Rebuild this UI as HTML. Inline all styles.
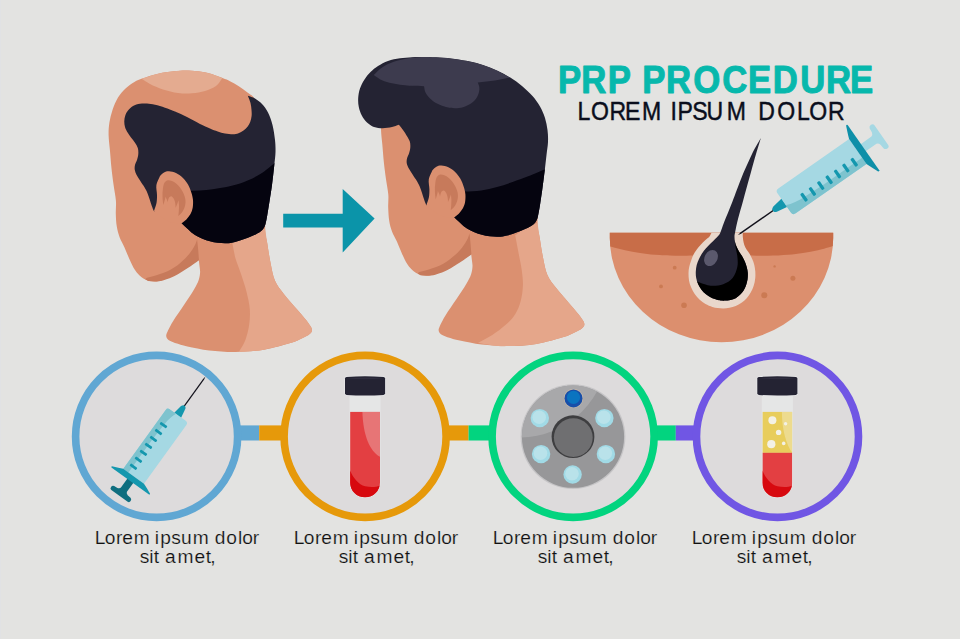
<!DOCTYPE html>
<html lang="en"><head><meta charset="utf-8"><title>PRP Procedure</title>
<style>
html,body{margin:0;padding:0;background:#E3E3E1;}
body{width:960px;height:639px;overflow:hidden;font-family:"Liberation Sans",sans-serif;}
svg{display:block;}
</style></head><body>
<svg width="960" height="639" viewBox="0 0 960 639">
<rect width="960" height="639" fill="#E3E3E1"/>
<rect width="1" height="639" fill="#E1E2E4"/>
<g>
<path d="M182.7 70.5C186.8 70.6 190.8 70.5 195 70.9C199.2 71.3 203.4 71.8 208 73C212.6 74.2 218.8 76.6 222.5 78C226.2 79.4 227.3 79.8 230 81.2C232.7 82.6 235.9 84.3 238.8 86.2C241.7 88.1 244.6 90 247.5 92.5C250.4 95 252.8 94.8 256 101C259.2 107.2 264.7 119.3 267 130C269.3 140.7 269.8 153.3 270 165C270.2 176.7 268.8 189.5 268 200C267.2 210.5 265.2 220.9 265.1 228.2C265 235.4 266.4 237.7 267.3 243.5C268.2 249.3 269.3 257 270.6 263.2C271.9 269.4 272.8 275.6 275 280.7C277.2 285.8 280.2 289.1 283.8 293.9C287.4 298.6 293.1 304.8 296.9 309.2C300.7 313.6 303.3 316.7 306.5 320.5C308.1 322.8 310.4 325.6 311.3 327.5C312.2 329.4 312.1 330.6 311.6 331.8C311.1 333.1 309.5 333.9 308.5 335C305.3 336.6 302 338.3 299 339.7C296 341.1 296.1 341.4 290.3 343.1C284.5 344.8 273.1 348.2 264 349.7C254.9 351.2 244.7 351.8 235.6 351.9C226.5 352 217.3 351.3 209.3 350.4C201.3 349.5 193.1 347.6 187.4 346.4C181.7 345.2 179.1 344.1 175 343C172.8 342 170 341.2 168.5 340C167 338.8 166.3 337.4 166.2 335.8C166.1 334.2 167.4 332.3 168 330.5C169.7 327.3 170.5 325.3 173.2 321C175.9 316.7 180.6 310.1 184.1 304.8C187.6 299.6 191.6 293.6 194 289.5C196.4 285.4 197.7 282.9 198.7 280C199.7 277.1 200 274.3 200.1 272C200.2 269.7 199.7 268 199.5 266C199.3 264 199 262 198.8 260C194.3 262.8 189.8 265.8 185.4 268.4C181 271 176.7 273.8 172.3 275.9C167.9 278 162.9 280 159.1 280.9C155.3 281.8 152.2 281.6 149.3 281C146.4 280.4 144 279.1 141.6 277.3C139.2 275.5 137 273 135 270C133 267 131.3 263.3 129.6 259.5C127.8 255.7 126.2 251.1 124.5 247.4C122.8 243.8 121 241.1 119.7 237.6C118.4 234.1 117.5 230.6 116.8 226.6C116.1 222.6 115.9 217.9 115.8 213.5C115.7 209.1 116.3 205.2 115.9 200.4C115.5 195.7 114.3 190.5 113.6 185C112.8 179.5 112 173.3 111.4 167.5C110.8 161.7 110.4 155.4 109.9 150C109.4 144.6 108.7 139.7 108.6 135.1C108.5 130.5 108.8 126.8 109.4 122.6C110.1 118.4 111.1 114.3 112.5 110.1C113.9 105.9 115.8 101.2 118 97.6C120.2 93.9 123.1 90.8 125.8 88.2C128.5 85.6 131.7 83.5 134.4 81.9C137.2 80.3 139.2 79.7 142.3 78.5C145.4 77.3 149.3 76 153.2 74.9C157.1 73.9 160.8 72.9 165.7 72.2C170.6 71.5 177 71.1 182.7 70.5Z" fill="#DB9070"/>
<path d="M232.3 243.1C233.4 248.3 234.1 253.6 235.6 258.8C237.1 264 239.3 268.7 241.1 274.2C242.9 279.7 245.1 285.9 246.5 291.7C247.9 297.5 249.4 303.7 249.8 309.2C250.2 314.7 249.9 319.4 249.2 324.5C248.5 329.6 247.1 335.3 245.4 339.9C243.7 344.5 241.1 347.9 238.9 351.9C242.6 351.7 245.8 351.6 250 351.2C254.2 350.8 257.3 351 264 349.7C270.7 348.4 284.5 344.8 290.3 343.1C296.1 341.4 296 341.1 299 339.7C302 338.3 305.3 336.6 308.5 335C309.5 333.9 311.1 333.1 311.6 331.8C312.1 330.6 312.2 329.4 311.3 327.5C310.4 325.6 308.1 322.8 306.5 320.5C303.3 316.7 300.7 313.6 296.9 309.2C293.1 304.8 287.4 298.6 283.8 293.9C280.2 289.1 277.2 285.8 275 280.7C272.8 275.6 271.9 269.4 270.6 263.2C269.3 257 268.2 249.3 267.3 243.5C266.4 237.7 265.8 233.3 265.1 228.2C260.1 230.8 255.5 233.5 250 236C244.5 238.5 238.2 240.7 232.3 243.1Z" fill="#E5A68A"/>
<path d="M148 281C150.9 281.2 154 281.7 156.8 281.5C159.6 281.3 162.1 280.6 165 279.7C167.9 278.8 171.3 277.5 174.1 276.2C176.8 274.9 179.2 273.4 181.5 272C183.8 270.6 185.3 269.8 188.2 267.8C191.1 265.9 195.4 262.8 199 260.3C198.7 256.9 198.5 253.5 198.2 250C197.9 246.5 197.5 242.9 197.1 239.4C196.6 241 196.2 242.5 195.5 244.1C194.8 245.7 193.9 247.2 192.9 248.8C191.9 250.4 190.8 251.9 189.6 253.5C188.3 255.1 187 256.6 185.4 258.2C183.8 259.8 182.1 261.3 180.2 262.9C178.3 264.5 176.2 266.2 174.1 267.6C172 269 169.8 270.2 167.5 271.3C165.2 272.4 162.4 273.3 160 274.1C157.6 274.9 155.2 275.7 153 276.3C150.8 276.9 149 277.3 147 277.8C146.5 278.3 145.3 278.8 145.5 279.3C145.7 279.8 147.2 280.4 148 281Z" fill="#C77A5B"/>
<path d="M141.5 78.8C145.4 77.5 149.2 76 153.2 74.9C157.2 73.8 160.8 72.9 165.7 72.2C170.6 71.5 177.8 70.7 182.7 70.5C187.6 70.3 190.8 70.5 195 70.9C199.2 71.3 203.4 71.8 208 73C212.6 74.2 217.7 76.3 222.5 78C220.3 80.7 218.9 83.8 216 86C213.1 88.2 209 89.8 205 91C201 92.2 196.5 93 192 93.3C187.5 93.6 182.8 93.6 178 93C173.2 92.4 167.7 91 163 89.5C158.3 88 153.6 85.8 150 84C146.4 82.2 144.3 80.5 141.5 78.8Z" fill="#E4AB90"/>
<clipPath id="h1c"><path d="M247.8 95.8C250.2 96.7 252.6 97.1 255 98.5C257.4 99.9 259.8 101.7 262 104C264.2 106.3 266.2 109 268 112.5C269.8 116 271.3 120.4 272.5 125C273.7 129.6 274.5 135.5 275 140C275.5 144.5 275.6 147.8 275.5 152C275.4 156.2 274.9 159.5 274.3 165C273.7 170.5 272.8 179 272 185C271.2 191 270.4 195.8 269.6 200.8C268.8 205.8 268 211.1 267.3 214.9C266.6 218.7 266.2 221.3 265.6 223.5C265 225.7 264.7 226.7 263.8 228C262.9 229.3 261.8 230.6 260.5 231.6C259.2 232.6 258.6 233 256 234.2C253.4 235.4 248.5 237.5 245 238.8C241.5 240.1 238.3 241.2 235 242C231.7 242.8 229.2 243.4 225 243.3C220.8 243.2 215 242.7 210 241.3C205 239.9 199.8 238.1 195 235C190.2 231.9 185.9 227 181.4 223C175.9 217 169.5 206.9 165 205C160.5 203.1 158 209.3 154.5 211.5C154.2 211.2 154 211.5 153.6 210.6C153.2 209.7 152.5 207.8 151.8 206C151.2 204.2 150.4 201.7 149.7 199.5C149 197.3 148.2 195 147.4 193C146.6 191 145.8 189.5 144.6 187.5C143.4 185.5 141.5 182.9 140.2 180.8C138.9 178.7 137.5 176.8 136.6 175C135.7 173.2 135.1 171.7 134.8 170C134.5 168.3 134.6 166.7 135 165C135.4 163.3 136.4 161.8 137 160C137.6 158.2 138.2 156 138.3 154C138.4 152 138.4 149.9 137.8 148C137.2 146.1 136.1 144.4 135 142.7C133.9 140.9 132.2 139.2 131 137.5C129.8 135.8 128.6 134.3 127.6 132.6C126.6 130.8 125.5 128.9 125 127C124.5 125.1 124.2 122.9 124.3 121C124.3 119.1 124.7 117.2 125.3 115.5C125.9 113.8 126.5 112.4 127.8 110.8C129.1 109.2 131 107.2 133 106C135 104.8 137.7 104.2 140 103.8C142.3 103.4 144.5 103.4 147 103.6C149.5 103.8 152 104.1 155 104.8C158 105.5 161.7 106.6 165 107.7C168.3 108.8 171.3 109.9 175 111.4C178.7 113 182.8 114.9 187 117C191.2 119.1 196.2 122 200 123.9C203.8 125.8 207.1 127.2 210 128.5C212.9 129.8 215.2 130.6 217.7 131.4C220.2 132.2 222.5 133 225 133.5C227.5 134 230.6 134.2 232.8 134.2C235.1 134.1 236.7 133.8 238.5 133.2C240.3 132.6 242 131.7 243.5 130.6C245 129.5 246.4 128.2 247.5 126.8C248.6 125.4 249.5 123.8 250.2 122C250.9 120.2 251.4 118 251.6 116C251.8 114 251.7 112.2 251.5 110C251.3 107.8 251.1 105.4 250.5 103C249.9 100.6 248.7 98.2 247.8 95.8Z"/></clipPath>
<path d="M247.8 95.8C250.2 96.7 252.6 97.1 255 98.5C257.4 99.9 259.8 101.7 262 104C264.2 106.3 266.2 109 268 112.5C269.8 116 271.3 120.4 272.5 125C273.7 129.6 274.5 135.5 275 140C275.5 144.5 275.6 147.8 275.5 152C275.4 156.2 274.9 159.5 274.3 165C273.7 170.5 272.8 179 272 185C271.2 191 270.4 195.8 269.6 200.8C268.8 205.8 268 211.1 267.3 214.9C266.6 218.7 266.2 221.3 265.6 223.5C265 225.7 264.7 226.7 263.8 228C262.9 229.3 261.8 230.6 260.5 231.6C259.2 232.6 258.6 233 256 234.2C253.4 235.4 248.5 237.5 245 238.8C241.5 240.1 238.3 241.2 235 242C231.7 242.8 229.2 243.4 225 243.3C220.8 243.2 215 242.7 210 241.3C205 239.9 199.8 238.1 195 235C190.2 231.9 185.9 227 181.4 223C175.9 217 169.5 206.9 165 205C160.5 203.1 158 209.3 154.5 211.5C154.2 211.2 154 211.5 153.6 210.6C153.2 209.7 152.5 207.8 151.8 206C151.2 204.2 150.4 201.7 149.7 199.5C149 197.3 148.2 195 147.4 193C146.6 191 145.8 189.5 144.6 187.5C143.4 185.5 141.5 182.9 140.2 180.8C138.9 178.7 137.5 176.8 136.6 175C135.7 173.2 135.1 171.7 134.8 170C134.5 168.3 134.6 166.7 135 165C135.4 163.3 136.4 161.8 137 160C137.6 158.2 138.2 156 138.3 154C138.4 152 138.4 149.9 137.8 148C137.2 146.1 136.1 144.4 135 142.7C133.9 140.9 132.2 139.2 131 137.5C129.8 135.8 128.6 134.3 127.6 132.6C126.6 130.8 125.5 128.9 125 127C124.5 125.1 124.2 122.9 124.3 121C124.3 119.1 124.7 117.2 125.3 115.5C125.9 113.8 126.5 112.4 127.8 110.8C129.1 109.2 131 107.2 133 106C135 104.8 137.7 104.2 140 103.8C142.3 103.4 144.5 103.4 147 103.6C149.5 103.8 152 104.1 155 104.8C158 105.5 161.7 106.6 165 107.7C168.3 108.8 171.3 109.9 175 111.4C178.7 113 182.8 114.9 187 117C191.2 119.1 196.2 122 200 123.9C203.8 125.8 207.1 127.2 210 128.5C212.9 129.8 215.2 130.6 217.7 131.4C220.2 132.2 222.5 133 225 133.5C227.5 134 230.6 134.2 232.8 134.2C235.1 134.1 236.7 133.8 238.5 133.2C240.3 132.6 242 131.7 243.5 130.6C245 129.5 246.4 128.2 247.5 126.8C248.6 125.4 249.5 123.8 250.2 122C250.9 120.2 251.4 118 251.6 116C251.8 114 251.7 112.2 251.5 110C251.3 107.8 251.1 105.4 250.5 103C249.9 100.6 248.7 98.2 247.8 95.8Z" fill="#242333"/>
<path d="M186 191C190.7 190.8 195.6 190.8 200 190.5C204.4 190.2 208.5 189.8 212.7 189.2C216.9 188.6 220.4 188.1 225 187.2C229.6 186.2 235.8 184.8 240 183.5C244.2 182.2 246.6 181.2 250 179.6C253.4 178 257.3 175.8 260.3 174C263.3 172.2 265.1 170.8 268 168.5C270.9 166.2 274.7 163.2 278 160.5L280 250L170 250L170 191L186 191Z" fill="#05040F" clip-path="url(#h1c)"/>
<path d="M160 176C161.3 174.8 162.5 173.3 164 172.5C165.5 171.7 167 171.2 169 171.3C171 171.4 173.7 171.9 176 173C178.3 174.1 180.7 175.8 182.7 177.7C184.7 179.6 186.6 182 188 184.5C189.4 187 190.6 190.2 191.4 192.8C192.2 195.4 192.8 197.5 193 200C193.2 202.5 193.1 205.5 192.7 207.8C192.3 210.1 191.6 212.1 190.5 214C189.4 215.9 187.9 217.9 186.4 219.5C184.9 221.1 183.1 222.2 181.4 223.5C177.6 223 173.6 223.2 170 222C166.4 220.8 162.7 217.8 160 216C157.3 214.2 156 212.7 154 211C154.8 208.3 156 205.7 156.5 203C157 200.3 157 198 157 195C157 192 155.9 188.2 156.4 185C156.9 181.8 158.8 179 160 176Z" fill="#DB9070"/>
<path d="M162.5 192.9C162.8 190.3 163 187 163.5 185.2C164 183.3 164.6 182.6 165.3 181.8C166 181 166.8 180.4 167.9 180.3C169 180.2 170.6 180.5 172 181C173.4 181.5 174.8 182.4 176.1 183.5C177.4 184.6 178.7 185.9 179.8 187.3C180.9 188.7 181.9 190.3 182.7 191.8C183.5 193.3 184.1 194.9 184.6 196.3C185.1 197.8 185.4 199.1 185.5 200.5C185.6 201.9 185.5 203.5 185.2 205C184.9 206.5 184.4 208 183.8 209.3C183.2 210.6 182.4 211.9 181.5 213C180.6 214.1 179.4 214.9 178.3 215.9C178.5 214.4 178.7 213.2 178.8 211.5C178.9 209.8 179.1 207.4 179 205.5C178.9 203.6 178.7 202 178.5 200.3C178 201.7 177.5 203.3 177 204.5C176.5 205.7 176.1 206.6 175.6 207.7C175.5 206.1 175.5 204.5 175.2 203C174.9 201.5 174.5 199.9 173.8 198.8C173.2 197.7 172.1 196.4 171.3 196.3C170.5 196.2 169.4 197 168.8 198C168.2 199 168 200.8 167.6 202.2C167.3 201.3 167.2 200.4 166.8 199.5C166.5 198.6 165.9 197.6 165.5 196.7C165.3 197.8 165.2 198.6 164.8 200C164.4 201.4 163.8 203.3 163.3 205C163.1 203 162.7 201 162.6 199C162.5 197 162.5 194.9 162.5 192.9Z" fill="#C77A5B"/>
</g>
<g>
<path d="M455.1 64.7C459.2 64.8 463.2 64.7 467.4 65.1C471.6 65.5 475.8 66 480.4 67.2C485 68.4 491.2 70.8 494.9 72.2C498.6 73.6 499.7 74 502.4 75.4C505.1 76.8 508.3 78.5 511.2 80.4C514.1 82.3 517 84.2 519.9 86.7C522.8 89.2 525.1 89 528.4 95.2C531.6 101.5 537.1 113.5 539.4 124.2C541.7 134.9 542.2 147.5 542.4 159.2C542.6 170.9 541.2 183.7 540.4 194.2C539.6 204.7 537.6 215.1 537.5 222.4C537.4 229.6 538.8 231.9 539.7 237.7C540.6 243.5 541.7 251.2 543 257.4C544.3 263.6 545.2 269.8 547.4 274.9C549.6 280 552.6 283.3 556.2 288.1C559.9 292.8 565.5 299 569.3 303.4C573.1 307.8 575.7 310.9 578.9 314.7C580.5 317 582.9 319.8 583.7 321.7C584.6 323.6 584.5 324.8 584 326C583.5 327.2 581.9 328.1 580.9 329.2C577.7 330.8 574.4 332.5 571.4 333.9C568.4 335.2 568.5 335.6 562.7 337.3C556.9 339 545.5 342.4 536.4 343.9C527.3 345.4 517.1 346 508 346.1C498.9 346.2 489.7 345.5 481.7 344.6C473.7 343.7 465.5 341.8 459.8 340.6C454.1 339.4 451.5 338.3 447.4 337.2C445.2 336.2 442.4 335.4 440.9 334.2C439.4 333 438.7 331.6 438.6 330C438.5 328.4 439.8 326.5 440.4 324.7C442.1 321.5 442.9 319.5 445.6 315.2C448.3 310.9 453 304.2 456.5 299C460 293.8 464 287.8 466.4 283.7C468.8 279.6 470.1 277.1 471.1 274.2C472.1 271.3 472.4 268.5 472.5 266.2C472.6 263.9 472.1 262.2 471.9 260.2C471.7 258.2 471.4 256.2 471.2 254.2C466.7 257 462.2 259.9 457.8 262.6C453.4 265.2 449.1 268 444.7 270.1C440.3 272.2 435.3 274.2 431.5 275.1C427.7 275.9 424.6 275.8 421.7 275.2C418.8 274.6 416.4 273.3 414 271.5C411.6 269.7 409.4 267.2 407.4 264.2C405.4 261.2 403.8 257.5 402 253.7C400.2 249.9 398.5 245.2 396.9 241.6C395.2 237.9 393.4 235.3 392.1 231.8C390.8 228.3 389.8 224.8 389.2 220.8C388.6 216.8 388.4 212.1 388.2 207.7C388 203.3 388.7 199.3 388.3 194.6C387.9 189.8 386.8 184.7 386 179.2C385.2 173.7 384.4 167.5 383.8 161.7C383.2 155.9 382.8 149.6 382.3 144.2C381.8 138.8 381.1 133.9 381 129.3C380.9 124.7 381.1 121 381.8 116.8C382.4 112.6 383.5 108.5 384.9 104.3C386.3 100.1 388.2 95.4 390.4 91.8C392.6 88.2 395.5 85 398.2 82.4C400.9 79.8 404 77.7 406.8 76.1C409.5 74.5 411.6 73.9 414.7 72.7C417.8 71.5 421.7 70.2 425.6 69.1C429.5 68.1 433.2 67.1 438.1 66.4C443 65.7 449.4 65.3 455.1 64.7Z" fill="#DB9070"/>
<path d="M515.2 235.3C516.3 241.1 517.4 247 518.5 252.8C519.6 258.7 521.1 264.9 521.8 270.4C522.5 275.9 523.1 280.6 522.9 285.7C522.7 290.8 522 296.2 520.7 301C519.4 305.8 517.8 310.2 515.2 314.2C512.7 318.2 509.2 321.6 505.4 325.1C501.6 328.6 496.9 332.1 492.3 335C487.7 337.9 482.8 340.2 478 342.8C482.8 343.7 487.4 344.8 492.4 345.4C497.4 345.9 500.7 346.3 508 346.1C515.3 345.8 527.3 345.4 536.4 343.9C545.5 342.4 556.9 339 562.7 337.3C568.5 335.6 568.4 335.2 571.4 333.9C574.4 332.5 577.7 330.8 580.9 329.2C581.9 328.1 583.5 327.2 584 326C584.5 324.8 584.6 323.6 583.7 321.7C582.9 319.8 580.5 317 578.9 314.7C575.7 310.9 573.1 307.8 569.3 303.4C565.5 299 559.9 292.8 556.2 288.1C552.6 283.3 549.6 280 547.4 274.9C545.2 269.8 544.3 263.6 543 257.4C541.7 251.2 540.6 243.5 539.7 237.7C538.8 231.9 538.2 227.5 537.5 222.4C532.5 225 526.1 228 522.4 230.2C518.7 232.3 517.6 233.6 515.2 235.3Z" fill="#E5A68A"/>
<path d="M420.4 275.2C423.3 275.4 426.4 275.9 429.2 275.7C432 275.5 434.5 274.8 437.4 273.9C440.3 273 443.8 271.7 446.5 270.4C449.2 269.1 451.5 267.6 453.9 266.2C456.2 264.8 457.7 263.9 460.6 262C463.5 260.1 467.8 257 471.4 254.5C471.1 251.1 470.9 247.7 470.6 244.2C470.3 240.7 469.9 237.1 469.5 233.6C469 235.2 468.6 236.7 467.9 238.3C467.2 239.9 466.3 241.4 465.3 243C464.3 244.6 463.2 246.1 462 247.7C460.8 249.3 459.4 250.8 457.8 252.4C456.2 254 454.5 255.5 452.6 257.1C450.7 258.7 448.6 260.4 446.5 261.8C444.4 263.2 442.2 264.4 439.9 265.5C437.5 266.6 434.8 267.5 432.4 268.3C430 269.1 427.6 269.9 425.4 270.5C423.2 271.1 421.4 271.5 419.4 272C418.9 272.5 417.7 273 417.9 273.5C418.1 274 419.6 274.6 420.4 275.2Z" fill="#C77A5B"/>
<clipPath id="h2c"><path d="M398.9 124.7C396.6 125.5 394.7 126.4 392 127C389.3 127.6 385.6 128.2 382.6 128.2C379.6 128.2 376.6 128 374 127C371.4 126 369 124.4 367 122.5C365 120.6 363.2 118.1 361.8 115.5C360.4 112.9 359.4 109.9 358.8 107C358.2 104.1 358 101.1 358.2 98C358.4 94.9 358.9 91.6 360 88.5C361.1 85.4 362.8 82.2 364.5 79.5C366.2 76.8 368.2 74.2 370.5 72C372.8 69.8 375.1 67.8 378 66C380.9 64.2 384.3 62.3 388 61C391.7 59.7 396 58.9 400 58.3C404 57.7 407.8 57.4 412 57.2C416.2 57 420.3 57 425 57C429.7 57 435 57.2 440 57.5C445 57.8 450 58.3 455 59C460 59.7 465.3 60.5 470 61.5C474.7 62.5 478.5 63.5 483 65C487.5 66.5 492.4 68.4 497 70.5C501.6 72.6 506.1 75 510.3 77.6C514.5 80.2 518.3 82.9 522 86C525.7 89.1 529.5 92.6 532.5 96C535.5 99.4 537.9 102.8 540 106.5C542.1 110.2 543.8 114.1 545 118C546.2 121.9 547 126 547.5 130C548 134 548.2 137.8 548 142C547.8 146.2 547 150.3 546.5 155C546 159.7 545.4 164.7 544.8 170C544.1 175.3 543.4 181.5 542.6 187C541.9 192.5 541 198.3 540.3 203C539.6 207.7 538.8 212.2 538.2 215C537.6 217.8 537.5 218.4 536.7 220C535.9 221.6 534.8 223.3 533.3 224.6C531.8 225.9 530.7 226.5 528 227.8C525.3 229.1 520.5 231 517 232.3C513.5 233.6 510.3 234.8 507 235.5C503.7 236.2 501.2 236.9 497 236.8C492.8 236.7 487 236.2 482 234.8C477 233.4 471.8 231.6 467 228.5C462.2 225.4 457.9 220.5 453.4 216.5C447.9 210.5 441.4 200.4 437 198.5C432.6 196.6 430.3 203 426.9 205.3C426.6 205 426.4 205.3 426 204.4C425.6 203.5 424.8 201.7 424.2 199.8C423.6 198 422.8 195.5 422.1 193.3C421.4 191.1 420.7 188.8 419.8 186.8C418.9 184.8 418.2 183.3 417 181.3C415.8 179.3 413.9 176.7 412.6 174.6C411.3 172.5 410 170.7 409 168.8C408 167 407.1 165.2 406.8 163.5C406.5 161.8 406.6 160.2 407 158.5C407.4 156.8 408.4 155.3 409 153.5C409.6 151.7 410.2 149.5 410.3 147.5C410.4 145.5 410.4 143.4 409.8 141.5C409.2 139.6 408.1 138.1 407 136.2C405.9 134.3 404.4 131.9 403 130C401.6 128.1 400.3 126.5 398.9 124.7Z"/></clipPath>
<path d="M398.9 124.7C396.6 125.5 394.7 126.4 392 127C389.3 127.6 385.6 128.2 382.6 128.2C379.6 128.2 376.6 128 374 127C371.4 126 369 124.4 367 122.5C365 120.6 363.2 118.1 361.8 115.5C360.4 112.9 359.4 109.9 358.8 107C358.2 104.1 358 101.1 358.2 98C358.4 94.9 358.9 91.6 360 88.5C361.1 85.4 362.8 82.2 364.5 79.5C366.2 76.8 368.2 74.2 370.5 72C372.8 69.8 375.1 67.8 378 66C380.9 64.2 384.3 62.3 388 61C391.7 59.7 396 58.9 400 58.3C404 57.7 407.8 57.4 412 57.2C416.2 57 420.3 57 425 57C429.7 57 435 57.2 440 57.5C445 57.8 450 58.3 455 59C460 59.7 465.3 60.5 470 61.5C474.7 62.5 478.5 63.5 483 65C487.5 66.5 492.4 68.4 497 70.5C501.6 72.6 506.1 75 510.3 77.6C514.5 80.2 518.3 82.9 522 86C525.7 89.1 529.5 92.6 532.5 96C535.5 99.4 537.9 102.8 540 106.5C542.1 110.2 543.8 114.1 545 118C546.2 121.9 547 126 547.5 130C548 134 548.2 137.8 548 142C547.8 146.2 547 150.3 546.5 155C546 159.7 545.4 164.7 544.8 170C544.1 175.3 543.4 181.5 542.6 187C541.9 192.5 541 198.3 540.3 203C539.6 207.7 538.8 212.2 538.2 215C537.6 217.8 537.5 218.4 536.7 220C535.9 221.6 534.8 223.3 533.3 224.6C531.8 225.9 530.7 226.5 528 227.8C525.3 229.1 520.5 231 517 232.3C513.5 233.6 510.3 234.8 507 235.5C503.7 236.2 501.2 236.9 497 236.8C492.8 236.7 487 236.2 482 234.8C477 233.4 471.8 231.6 467 228.5C462.2 225.4 457.9 220.5 453.4 216.5C447.9 210.5 441.4 200.4 437 198.5C432.6 196.6 430.3 203 426.9 205.3C426.6 205 426.4 205.3 426 204.4C425.6 203.5 424.8 201.7 424.2 199.8C423.6 198 422.8 195.5 422.1 193.3C421.4 191.1 420.7 188.8 419.8 186.8C418.9 184.8 418.2 183.3 417 181.3C415.8 179.3 413.9 176.7 412.6 174.6C411.3 172.5 410 170.7 409 168.8C408 167 407.1 165.2 406.8 163.5C406.5 161.8 406.6 160.2 407 158.5C407.4 156.8 408.4 155.3 409 153.5C409.6 151.7 410.2 149.5 410.3 147.5C410.4 145.5 410.4 143.4 409.8 141.5C409.2 139.6 408.1 138.1 407 136.2C405.9 134.3 404.4 131.9 403 130C401.6 128.1 400.3 126.5 398.9 124.7Z" fill="#242333"/>
<path d="M373.8 75C375.9 73 377.6 70.8 380 69C382.4 67.2 384.7 65.5 388 64C391.3 62.5 396 61 400 60C404 59 407.8 58.3 412 57.8C416.2 57.3 420.3 57 425 57C429.7 57 435 57.2 440 57.5C445 57.8 450 58.3 455 59C460 59.7 465.3 60.5 470 61.5C474.7 62.5 478.5 63.5 483 65C487.5 66.5 492.5 68.4 497 70.5C501.5 72.6 505.7 75.2 510 77.6C505 78.6 500.4 79.7 495 80.5C489.6 81.3 483.5 81.9 477.8 82.6C478.3 84.1 479.1 85.4 479.3 87C479.5 88.6 479.5 90.2 479 92C478.5 93.8 477.8 96.1 476.5 98C475.2 99.9 473.2 102 471 103.5C468.8 105 465.7 106.4 463 107.2C460.3 108 457.8 108.2 455 108.2C452.2 108.2 449 107.8 446 107C443 106.2 439.7 104.9 437 103.5C434.3 102.1 431.9 100.3 430 98.5C428.1 96.7 426.5 94.5 425.5 92.5C424.5 90.5 424.5 88.4 424 86.3C420 86.1 415.6 86 412 85.8C408.4 85.6 405.9 85.4 402.6 85C399.3 84.6 395.4 84.1 392 83.3C388.6 82.5 385 81.7 382 80.3C379 78.9 376.5 76.8 373.8 75Z" fill="#3D3B4E" clip-path="url(#h2c)"/>
<path d="M458 191.8C460.4 191.7 461.4 191.8 465.3 191.6C469.2 191.4 476 191.2 481.3 190.4C486.6 189.6 491.8 188.4 497 187C502.2 185.6 507.4 183.8 512.6 182C517.8 180.2 522.7 178.5 528.2 176.3C533.7 174.1 541.7 170.6 545.5 169C549.3 167.4 549.2 167.3 551 166.5L553 245L442 245L442 190.8L458 190.8Z" fill="#05040F" clip-path="url(#h2c)"/>
<path d="M432.4 170.2C433.7 169 434.9 167.5 436.4 166.7C437.9 165.9 439.4 165.4 441.4 165.5C443.4 165.6 446.1 166.1 448.4 167.2C450.7 168.3 453.1 170 455.1 171.9C457.1 173.8 458.9 176.2 460.4 178.7C461.8 181.2 463 184.4 463.8 187C464.6 189.6 465.2 191.7 465.4 194.2C465.6 196.7 465.5 199.7 465.1 202C464.7 204.3 463.9 206.2 462.9 208.2C461.8 210.1 460.3 212.1 458.8 213.7C457.3 215.3 455.5 216.4 453.8 217.7C450 217.2 446 217.4 442.4 216.2C438.8 214.9 435.1 212 432.4 210.2C429.7 208.4 428.4 206.9 426.4 205.2C427.2 202.5 428.4 199.9 428.9 197.2C429.4 194.5 429.4 192.2 429.4 189.2C429.4 186.2 428.3 182.4 428.8 179.2C429.3 176 431.2 173.2 432.4 170.2Z" fill="#DB9070"/>
<path d="M434.9 187.1C435.2 184.5 435.4 181.2 435.9 179.4C436.4 177.5 437 176.8 437.7 176C438.4 175.2 439.2 174.6 440.3 174.5C441.4 174.4 443 174.7 444.4 175.2C445.8 175.7 447.2 176.6 448.5 177.7C449.8 178.8 451.1 180.1 452.2 181.5C453.3 182.9 454.3 184.5 455.1 186C455.9 187.5 456.5 189.1 457 190.5C457.5 191.9 457.8 193.2 457.9 194.7C458 196.1 457.9 197.7 457.6 199.2C457.3 200.7 456.8 202.2 456.2 203.5C455.6 204.8 454.8 206.1 453.9 207.2C453 208.3 451.8 209.1 450.7 210.1C450.9 208.6 451.1 207.4 451.2 205.7C451.3 204 451.4 201.6 451.4 199.7C451.3 197.8 451.1 196.2 450.9 194.5C450.4 195.9 449.9 197.5 449.4 198.7C448.9 199.9 448.5 200.8 448 201.9C447.9 200.3 447.9 198.7 447.6 197.2C447.3 195.7 446.8 194.1 446.2 193C445.6 191.9 444.5 190.6 443.7 190.5C442.9 190.4 441.8 191.2 441.2 192.2C440.6 193.2 440.4 195 440 196.4C439.7 195.5 439.6 194.6 439.2 193.7C438.8 192.8 438.3 191.8 437.9 190.9C437.7 192 437.6 192.8 437.2 194.2C436.8 195.6 436.2 197.5 435.7 199.2C435.5 197.2 435.1 195.2 435 193.2C434.9 191.2 434.9 189.1 434.9 187.1Z" fill="#C77A5B"/>
</g>
<path d="M283.2 213.8H342.7V189L374.6 218.4L342.7 252.4V227.6H283.2Z" fill="#0B94A9"/>
<text x="620 645.8 675.4 701.1 713.7 740.1 770.2 802.6 831 858.5 889.1 917.9 944.5" y="92.6" transform="scale(0.9 1)" font-family="'Liberation Sans',sans-serif" font-weight="bold" font-size="38.6" fill="#07B8AC" stroke="#07B8AC" stroke-width="1" stroke-linejoin="round">PRP PROCEDURE</text>
<text x="641.6 656.6 677.3 694.4 713.4 734.7 744.9 752.9 769.1 785 807.5 828.8 842.4 863.7 885.5 899.3 920" y="119.7" transform="scale(0.9 1)" font-family="'Liberation Sans',sans-serif" font-size="25.6" fill="#0A0E1C" stroke="#0A0E1C" stroke-width="0.45">LOREM IPSUM DOLOR</text>
<clipPath id="bc"><path d="M609.8 232.8H833.2V238A111.7 105 0 0 1 721.5 342.3A111.7 105 0 0 1 609.8 238Z"/></clipPath>
<path d="M609.8 232.8H833.2V238A111.7 105 0 0 1 721.5 342.3A111.7 105 0 0 1 609.8 238Z" fill="#DC8F6E"/>
<path d="M605 245C606.7 245.5 606.7 245.7 610 246.6C613.3 247.5 620 249.2 625 250.3C630 251.4 635 252.2 640 253C645 253.8 649.2 254.3 655 254.8C660.8 255.3 668.3 255.7 675 255.8C681.7 255.9 687.2 255.7 695 255.6C702.8 255.5 712.7 255.3 721.5 255.3C730.3 255.3 740.2 255.5 748 255.6C755.8 255.7 761.3 255.9 768 255.8C774.7 255.7 782.2 255.3 788 254.8C793.8 254.3 798 253.8 803 253C808 252.2 813 251.5 818 250.3C823 249.1 829.7 247 833 246C836.3 245 836.3 245 838 244.5L838 228L605 228L605 245Z" fill="#C86D48" clip-path="url(#bc)"/>
<circle cx="674.7" cy="267.7" r="1.9" fill="#CB7A53"/>
<circle cx="661" cy="286.4" r="1.9" fill="#CB7A53"/>
<circle cx="684" cy="305.3" r="2.8" fill="#CB7A53"/>
<circle cx="774.6" cy="266.4" r="1.2" fill="#CB7A53"/>
<circle cx="792.9" cy="278.2" r="2.5" fill="#CB7A53"/>
<circle cx="764.3" cy="295.3" r="3" fill="#CB7A53"/>
<path d="M711.5 232.8C710.8 234 710.5 235.2 709.5 236.5C708.5 237.8 706.7 238.9 705.2 240.3C703.7 241.7 701.9 243.4 700.5 245C699.1 246.6 697.8 248 696.6 249.7C695.4 251.4 694.2 253.2 693.3 255C692.4 256.8 691.8 258.7 691.1 260.7C690.4 262.7 689.6 264.9 689.2 267C688.8 269.1 688.5 270.9 688.5 273.2C688.5 275.4 688.6 278.1 689 280.5C689.4 282.9 690.1 285.1 691.1 287.3C692.1 289.6 693.3 291.9 694.7 294C696.1 296.1 697.9 298.1 699.7 299.8C701.5 301.5 703.4 302.8 705.5 304C707.6 305.2 710.3 306.2 712.3 306.9C714.3 307.6 715.9 307.9 717.7 308.1C719.5 308.4 721.2 308.4 723.2 308.4C725.2 308.3 727.4 308.2 729.5 307.8C731.6 307.4 733.7 306.9 735.7 306.1C737.7 305.3 739.7 304.1 741.5 302.8C743.3 301.5 745.2 299.9 746.7 298.2C748.2 296.5 749.5 294.6 750.7 292.5C751.9 290.4 753 288 753.7 285.7C754.5 283.4 754.9 280.9 755.2 278.5C755.5 276.1 755.4 273.9 755.3 271.6C755.1 269.4 754.8 267.1 754.3 265C753.8 262.9 753 260.9 752.2 259.1C751.4 257.3 750.6 255.6 749.7 254C748.8 252.4 747.6 251.2 746.7 249.7C745.8 248.2 744.9 246.6 744.3 245C743.7 243.4 743.5 241.7 743.2 240.3C743 238.9 742.9 237.8 742.8 236.5C742.7 235.2 742.8 234 742.8 232.8Z" fill="#E9D7CB"/>
<clipPath id="fc"><path d="M760.9 138.1C759.8 141.7 758.6 145.2 757.5 149C756.4 152.8 755.3 156.3 754 161C752.7 165.7 751.4 170.5 749.6 177C747.8 183.5 745.2 193 743.3 200C741.4 207 739.4 213.5 738 219C736.6 224.5 735.6 229.8 735 232.8C734.4 235.8 734.5 235.7 734.5 237.2C734.5 238.7 734.7 240.4 735 242C735.3 243.6 735.8 245 736.5 246.6C737.2 248.2 738.1 249.9 739 251.5C739.9 253.1 741 254.3 742 256C743 257.7 744 259.7 744.8 261.5C745.6 263.3 746.2 265.1 746.7 267C747.2 268.9 747.7 270.9 747.8 273C747.9 275.1 747.8 277.4 747.5 279.5C747.2 281.6 746.6 283.7 746 285.5C745.4 287.3 744.6 288.8 743.6 290.4C742.6 291.9 741.3 293.5 740 294.8C738.7 296.1 737.3 297.3 735.7 298.2C734.1 299.1 732.3 299.6 730.5 300C728.7 300.4 726.4 300.5 724.8 300.6C723.2 300.7 722 300.6 720.7 300.5C719.4 300.4 718.6 300.3 717 299.8C715.4 299.3 712.8 298.4 711 297.5C709.2 296.6 707.6 295.6 706 294.3C704.4 293 702.8 291.4 701.5 289.7C700.2 288 699.1 286.1 698.2 284.2C697.3 282.2 696.6 280.1 696.2 278C695.8 275.9 695.7 273.8 695.8 271.6C695.9 269.4 696.2 267.1 696.7 265C697.2 262.9 698.1 261 699 259.1C699.9 257.2 700.8 255.3 702 253.5C703.2 251.7 704.5 249.9 706 248.2C707.5 246.5 709.2 244.9 710.8 243.3C712.4 241.7 714.1 240.1 715.4 238.8C716.6 237.6 717.5 236.8 718.3 235.8C719.1 234.8 719.3 235.1 720.3 232.8C721.3 230.5 722.2 227.1 724.2 222C726.2 216.9 729.4 209.5 732.3 202C735.2 194.5 739 183.8 741.8 177C744.5 170.2 746.7 165.7 748.8 161C750.9 156.3 752.5 152.8 754.5 149C756.5 145.2 758.8 141.7 760.9 138.1Z"/></clipPath>
<path d="M760.9 138.1C759.8 141.7 758.6 145.2 757.5 149C756.4 152.8 755.3 156.3 754 161C752.7 165.7 751.4 170.5 749.6 177C747.8 183.5 745.2 193 743.3 200C741.4 207 739.4 213.5 738 219C736.6 224.5 735.6 229.8 735 232.8C734.4 235.8 734.5 235.7 734.5 237.2C734.5 238.7 734.7 240.4 735 242C735.3 243.6 735.8 245 736.5 246.6C737.2 248.2 738.1 249.9 739 251.5C739.9 253.1 741 254.3 742 256C743 257.7 744 259.7 744.8 261.5C745.6 263.3 746.2 265.1 746.7 267C747.2 268.9 747.7 270.9 747.8 273C747.9 275.1 747.8 277.4 747.5 279.5C747.2 281.6 746.6 283.7 746 285.5C745.4 287.3 744.6 288.8 743.6 290.4C742.6 291.9 741.3 293.5 740 294.8C738.7 296.1 737.3 297.3 735.7 298.2C734.1 299.1 732.3 299.6 730.5 300C728.7 300.4 726.4 300.5 724.8 300.6C723.2 300.7 722 300.6 720.7 300.5C719.4 300.4 718.6 300.3 717 299.8C715.4 299.3 712.8 298.4 711 297.5C709.2 296.6 707.6 295.6 706 294.3C704.4 293 702.8 291.4 701.5 289.7C700.2 288 699.1 286.1 698.2 284.2C697.3 282.2 696.6 280.1 696.2 278C695.8 275.9 695.7 273.8 695.8 271.6C695.9 269.4 696.2 267.1 696.7 265C697.2 262.9 698.1 261 699 259.1C699.9 257.2 700.8 255.3 702 253.5C703.2 251.7 704.5 249.9 706 248.2C707.5 246.5 709.2 244.9 710.8 243.3C712.4 241.7 714.1 240.1 715.4 238.8C716.6 237.6 717.5 236.8 718.3 235.8C719.1 234.8 719.3 235.1 720.3 232.8C721.3 230.5 722.2 227.1 724.2 222C726.2 216.9 729.4 209.5 732.3 202C735.2 194.5 739 183.8 741.8 177C744.5 170.2 746.7 165.7 748.8 161C750.9 156.3 752.5 152.8 754.5 149C756.5 145.2 758.8 141.7 760.9 138.1Z" fill="#242333"/>
<path d="M735.5 232C735.3 235.8 734.7 239.5 735 243.5C735.3 247.5 736.9 252.1 737.3 256C737.7 259.9 738.1 263.3 737.3 267C736.5 270.7 735 275.1 732.6 278C730.2 280.9 726.9 282.9 723.2 284.2C719.6 285.5 714.6 286 710.7 285.7C706.8 285.4 702.5 283.7 699.7 282.6C696.9 281.5 695.9 280.2 694 279L694 305L752 305L752 232L735.5 232Z" fill="#000" clip-path="url(#fc)"/>
<ellipse cx="711" cy="258" rx="6.4" ry="8.5" transform="rotate(28 711 258)" fill="#5B596D"/>
<g transform="translate(737.8 235.2) rotate(-34.9) scale(1)">
<path d="M0 0L4 -0.72H44V0.72H4Z" fill="#12111B"/>
<path d="M43 -1.5Q42.4 0 43 1.5Q43.8 2.6 45.5 3.1L57 5.1V-5.1L45.5 -3.1Q43.8 -2.6 43 -1.5Z" fill="#1497AE"/>
<clipPath id="sb1"><path d="M60 -15.2H146.3V15.2H60Q56.5 15.2 56.5 11.7V-11.7Q56.5 -15.2 60 -15.2Z"/></clipPath>
<path d="M60 -15.2H146.3V15.2H60Q56.5 15.2 56.5 11.7V-11.7Q56.5 -15.2 60 -15.2Z" fill="#A5D8E3"/>
<path d="M55 1.8C60 4.8 66 6 75 6.6L100 7.6H147V16H55Z" fill="#7EC3CE" clip-path="url(#sb1)"/>
<rect x="74.4" y="2.1" width="3.3" height="9.4" rx="1" fill="#1497AE"/>
<rect x="84.6" y="2.1" width="3.3" height="9.4" rx="1" fill="#1497AE"/>
<rect x="94.8" y="2.1" width="3.3" height="9.4" rx="1" fill="#1497AE"/>
<rect x="105" y="2.1" width="3.3" height="9.4" rx="1" fill="#1497AE"/>
<rect x="115.2" y="2.1" width="3.3" height="9.4" rx="1" fill="#1497AE"/>
<rect x="125.4" y="2.1" width="3.3" height="9.4" rx="1" fill="#1497AE"/>
<rect x="135.6" y="2.1" width="3.3" height="9.4" rx="1" fill="#1497AE"/>
<path d="M152 -4.4H166Q168 -4.7 168.8 -7.5L169.2 -12Q169.8 -14.4 172.3 -14.4Q175 -14.4 175 -12V12Q175 14.4 172.3 14.4Q169.8 14.4 169.2 12L168.8 7.5Q168 4.7 166 4.4H152Z" fill="#A5D8E3"/>
<path d="M146.3 -15.2Q148 -20 151.6 -28Q152.6 -28.6 153.2 -27.6V27.6Q152.6 28.6 151.6 28Q148 20 146.3 15.2Z" fill="#0E8FA8"/>
</g>
<rect x="238" y="425.4" width="21.2" height="15.1" fill="#60A7D3"/>
<rect x="259.2" y="425.4" width="25" height="15.1" fill="#E6990A"/>
<rect x="446" y="425.4" width="22.6" height="15.1" fill="#E6990A"/>
<rect x="468.6" y="425.4" width="24" height="15.1" fill="#02D47F"/>
<rect x="654" y="425.4" width="21.8" height="15.1" fill="#02D47F"/>
<rect x="675.8" y="425.4" width="21" height="15.1" fill="#7056E4"/>
<circle cx="156.6" cy="436.4" r="81" fill="#DDDBDC" stroke="#60A7D3" stroke-width="7.6"/>
<circle cx="365.1" cy="436.4" r="81" fill="#DDDBDC" stroke="#E6990A" stroke-width="7.6"/>
<circle cx="573.1" cy="436.4" r="81" fill="#DDDBDC" stroke="#02D47F" stroke-width="7.6"/>
<circle cx="777.5" cy="436.4" r="81" fill="#DDDBDC" stroke="#7056E4" stroke-width="7.6"/>
<g transform="translate(205.5 376.6) rotate(125.8) scale(0.84)">
<path d="M0 0L4 -0.72H44V0.72H4Z" fill="#12111B"/>
<path d="M43 -1.5Q42.4 0 43 1.5Q43.8 2.6 45.5 3.1L57 5.1V-5.1L45.5 -3.1Q43.8 -2.6 43 -1.5Z" fill="#1497AE"/>
<clipPath id="sb2"><path d="M60 -15.2H146.3V15.2H60Q56.5 15.2 56.5 11.7V-11.7Q56.5 -15.2 60 -15.2Z"/></clipPath>
<path d="M60 -15.2H146.3V15.2H60Q56.5 15.2 56.5 11.7V-11.7Q56.5 -15.2 60 -15.2Z" fill="#A5D8E3"/>
<path d="M55 1.8C60 4.8 66 6 75 6.6L100 7.6H147V16H55Z" fill="#7EC3CE" clip-path="url(#sb2)"/>
<rect x="74.4" y="2.1" width="3.3" height="9.4" rx="1" fill="#1497AE"/>
<rect x="84.6" y="2.1" width="3.3" height="9.4" rx="1" fill="#1497AE"/>
<rect x="94.8" y="2.1" width="3.3" height="9.4" rx="1" fill="#1497AE"/>
<rect x="105" y="2.1" width="3.3" height="9.4" rx="1" fill="#1497AE"/>
<rect x="115.2" y="2.1" width="3.3" height="9.4" rx="1" fill="#1497AE"/>
<rect x="125.4" y="2.1" width="3.3" height="9.4" rx="1" fill="#1497AE"/>
<rect x="135.6" y="2.1" width="3.3" height="9.4" rx="1" fill="#1497AE"/>
<path d="M152 -4.4H166Q168 -4.7 168.8 -7.5L169.2 -12Q169.8 -14.4 172.3 -14.4Q175 -14.4 175 -12V12Q175 14.4 172.3 14.4Q169.8 14.4 169.2 12L168.8 7.5Q168 4.7 166 4.4H152Z" fill="#0F6E7F"/>
<path d="M146.3 -15.2Q148 -20 151.6 -28Q152.6 -28.6 153.2 -27.6V27.6Q152.6 28.6 151.6 28Q148 20 146.3 15.2Z" fill="#1497AE"/>
</g>
<clipPath id="tc350"><path d="M350.1 395.8H380V482.4A14.9 14.9 0 0 1 350.1 482.4Z"/></clipPath>
<path d="M349.5 395.8H380.6V482.4A15.5 15.7 0 0 1 349.5 482.4Z" fill="#E5E6E6"/>
<g clip-path="url(#tc350)">
<rect x="350.1" y="411.9" width="29.9" height="85.4" fill="#E33F42"/>
<path d="M362.4 411.9C363.1 435 369.6 451 380 456.8V411.9Z" fill="#E77576"/>
<path d="M350.1 470.5C353.1 478 358.6 484.5 365.1 486.3C371.1 487.6 376.1 487.2 380 485.5V500H350.1Z" fill="#D7090F"/>
</g>
<path d="M345 378.6Q345 377.3 346.6 377Q365.1 375.6 383.5 377Q385.1 377.3 385.1 378.6V393.3Q385.1 394.6 383.5 394.9Q365.1 396.3 346.6 394.9Q345 394.6 345 393.3Z" fill="#242333" stroke="#E6E6E8" stroke-width="1.6" stroke-linejoin="round"/>
<path d="M345 378.6Q345 377.3 346.6 377Q365.1 375.6 383.5 377Q385.1 377.3 385.1 378.6V393.3Q385.1 394.6 383.5 394.9Q365.1 396.3 346.6 394.9Q345 394.6 345 393.3Z" fill="#242333"/>
<path d="M346.5 378.3Q365.1 376.6 383.6 378.3Q365.1 380.2 346.5 378.3Z" fill="#2F2D3F"/>
<clipPath id="tc762"><path d="M762.4 395.8H792.3V482.4A14.9 14.9 0 0 1 762.4 482.4Z"/></clipPath>
<path d="M761.8 395.8H792.9V482.4A15.5 15.7 0 0 1 761.8 482.4Z" fill="#E5E6E6"/>
<g clip-path="url(#tc762)">
<rect x="762.4" y="411.9" width="29.9" height="41" fill="#E8CD5C"/>
<path d="M781.9 411.9C781.9 430 786.4 445 792.3 452.8V411.9Z" fill="#EDDB8E"/>
<circle cx="772.4" cy="420.3" r="4" fill="#F3F1E6"/>
<circle cx="785.6" cy="423.7" r="1.7" fill="#F3F1E6"/>
<circle cx="778.6" cy="432.4" r="2.7" fill="#F3F1E6"/>
<circle cx="771.3" cy="444.2" r="4.1" fill="#F3F1E6"/>
<circle cx="783.7" cy="443.4" r="1.8" fill="#F3F1E6"/>
<rect x="762.4" y="452.8" width="29.9" height="44.5" fill="#E33F42"/>
<path d="M762.4 470.5C765.4 478 770.9 484.5 777.4 486.3C783.4 487.6 788.4 487.2 792.3 485.5V500H762.4Z" fill="#D7090F"/>
</g>
<path d="M757.3 378.6Q757.3 377.3 758.9 377Q777.3 375.6 795.8 377Q797.4 377.3 797.4 378.6V393.3Q797.4 394.6 795.8 394.9Q777.3 396.3 758.9 394.9Q757.3 394.6 757.3 393.3Z" fill="#242333" stroke="#E6E6E8" stroke-width="1.6" stroke-linejoin="round"/>
<path d="M757.3 378.6Q757.3 377.3 758.9 377Q777.3 375.6 795.8 377Q797.4 377.3 797.4 378.6V393.3Q797.4 394.6 795.8 394.9Q777.3 396.3 758.9 394.9Q757.3 394.6 757.3 393.3Z" fill="#242333"/>
<path d="M758.8 378.3Q777.3 376.6 795.9 378.3Q777.3 380.2 758.8 378.3Z" fill="#2F2D3F"/>
<circle cx="573" cy="436.7" r="52.4" fill="#C6C5C7"/>
<clipPath id="cfc"><circle cx="573" cy="436.7" r="51.1"/></clipPath>
<circle cx="573" cy="436.7" r="51.1" fill="#979799"/>
<circle cx="520" cy="350" r="87.5" fill="#A8A8AA" clip-path="url(#cfc)"/>
<circle cx="573.5" cy="398.4" r="9.6" fill="#C9B9A8"/>
<circle cx="573.5" cy="398.4" r="9" fill="#184FA9"/>
<circle cx="573.5" cy="397.4" r="6.6" fill="#0B74C0"/>
<circle cx="604.4" cy="418.1" r="9.2" fill="#A1DAE6"/>
<circle cx="603.8" cy="417.3" r="6.8" fill="#B9E2EA"/>
<circle cx="605.9" cy="454.1" r="9.2" fill="#A1DAE6"/>
<circle cx="605.3" cy="453.3" r="6.8" fill="#B9E2EA"/>
<circle cx="572.6" cy="474.5" r="9.2" fill="#A1DAE6"/>
<circle cx="572" cy="473.7" r="6.8" fill="#B9E2EA"/>
<circle cx="541.1" cy="454.1" r="9.2" fill="#A1DAE6"/>
<circle cx="540.5" cy="453.3" r="6.8" fill="#B9E2EA"/>
<circle cx="539.8" cy="418.1" r="9.2" fill="#A1DAE6"/>
<circle cx="539.2" cy="417.3" r="6.8" fill="#B9E2EA"/>
<circle cx="573" cy="436.7" r="21.4" fill="#3E3E40"/>
<circle cx="573.3" cy="437.59999999999997" r="19.4" fill="#6F6F71"/>
<text x="94.8 104.7 115.9 122.2 133.8 149.8 154.8 160.2 171.3 181 192.8 208.8 214.8 226.2 237.9 242.2 252.8" y="543.6" font-family="'Liberation Sans',sans-serif" font-size="19.2" fill="#111111" stroke="#E3E3E1" stroke-width="0.18">Lorem ipsum dolor</text>
<text x="139.8 149.2 153.8 159.1 164.9 177.4 194.4 205.8 210.3" y="562.9" font-family="'Liberation Sans',sans-serif" font-size="19.2" fill="#111111" stroke="#E3E3E1" stroke-width="0.18">sit amet,</text>
<text x="293.8 303.7 314.9 321.2 332.8 348.8 353.8 359.2 370.3 379.9 391.8 407.8 413.8 425.2 436.9 441.2 451.8" y="543.6" font-family="'Liberation Sans',sans-serif" font-size="19.2" fill="#111111" stroke="#E3E3E1" stroke-width="0.18">Lorem ipsum dolor</text>
<text x="338.8 348.2 352.8 358.1 363.9 376.4 393.4 404.8 409.3" y="562.9" font-family="'Liberation Sans',sans-serif" font-size="19.2" fill="#111111" stroke="#E3E3E1" stroke-width="0.18">sit amet,</text>
<text x="492.8 502.7 513.9 520.2 531.8 547.8 552.8 558.2 569.3 578.9 590.8 606.8 612.8 624.2 635.9 640.2 650.8" y="543.6" font-family="'Liberation Sans',sans-serif" font-size="19.2" fill="#111111" stroke="#E3E3E1" stroke-width="0.18">Lorem ipsum dolor</text>
<text x="537.8 547.2 551.8 557.1 562.9 575.4 592.4 603.8 608.3" y="562.9" font-family="'Liberation Sans',sans-serif" font-size="19.2" fill="#111111" stroke="#E3E3E1" stroke-width="0.18">sit amet,</text>
<text x="691.8 701.7 712.9 719.2 730.8 746.8 751.8 757.2 768.3 777.9 789.8 805.8 811.8 823.2 834.9 839.2 849.8" y="543.6" font-family="'Liberation Sans',sans-serif" font-size="19.2" fill="#111111" stroke="#E3E3E1" stroke-width="0.18">Lorem ipsum dolor</text>
<text x="736.8 746.2 750.8 756.1 761.9 774.4 791.4 802.8 807.3" y="562.9" font-family="'Liberation Sans',sans-serif" font-size="19.2" fill="#111111" stroke="#E3E3E1" stroke-width="0.18">sit amet,</text>
</svg>
</body></html>
